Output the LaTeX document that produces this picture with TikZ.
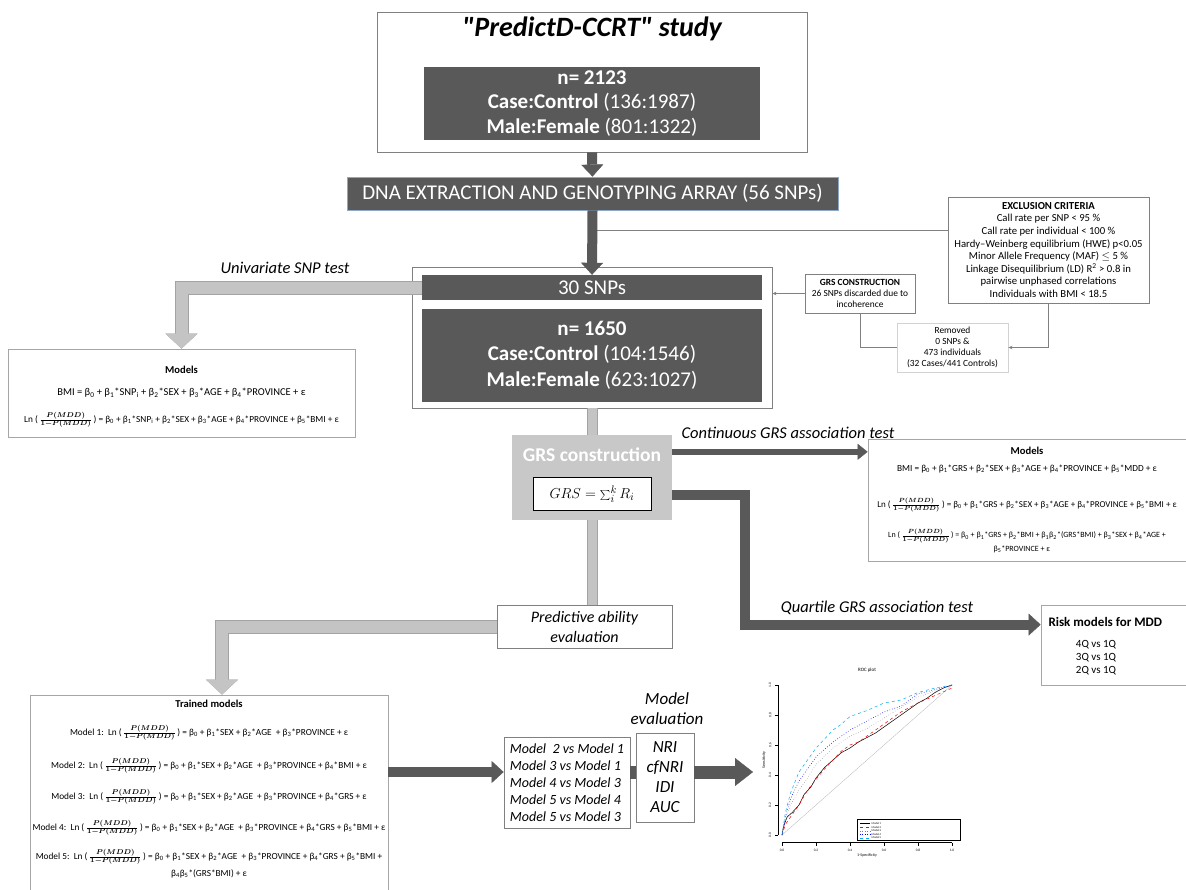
\documentclass[tikz,border=0pt]{standalone}
\usepackage{fontspec}
\setmainfont{Carlito}
\newfontfamily\plainfont{Carlito}
\usetikzlibrary{arrows.meta}

\definecolor{dkgray}{HTML}{595959}
\definecolor{ltgray}{HTML}{C4C4C4}
\definecolor{edgegray}{HTML}{A3A3A3}
\definecolor{grsgray}{HTML}{C8C8C8}
\definecolor{dnaedge}{HTML}{8EA9C8}

\def\fs#1#2{\fontsize{#1}{#2}\selectfont}
\newcommand{\bta}[1]{β\textsubscript{#1}}
\newcommand{\lnodds}{Ln (\,{\boldmath$\frac{P(MDD)}{1-P(MDD)}$}\,)}

\tikzset{
  linebox/.style={draw=gray, fill=white, line width=0.8pt, inner sep=0pt},
  darkbox/.style={fill=dkgray, text=white, inner sep=0pt, align=center},
  bigarrow/.style={draw=dkgray, line width=10pt, -{Triangle[length=12pt,width=22pt,line width=0.4pt]}},
  lightarrow/.style={draw=ltgray, line width=12pt, preaction={draw=edgegray, line width=14pt},
    -{Triangle[length=15pt,width=32pt,line width=0.4pt]}},
  shaft/.style={draw=ltgray, line width=9pt, preaction={draw=edgegray, line width=11pt}},
  thinline/.style={draw=gray, line width=0.7pt},
  thinarrow/.style={thinline, -{Stealth[length=4pt,width=3.5pt]}},
  formula/.style={font=\fs{9.3}{11}},
  heading/.style={font=\fs{10.6}{13}\bfseries},
  testlabel/.style={font=\fs{16.5}{20}\itshape},
}

\begin{document}
\begin{tikzpicture}[x=1pt, y=-1pt]
\path[use as bounding box] (0,0) rectangle (1186,889);

%%%%% STUDY %%%%%
\node[linebox, minimum width=430pt, minimum height=140pt] (study) at (592,82) {};
\node[font=\plainfont\fs{28}{32}\bfseries\itshape] (studytitle) at (592,29) {"PredictD-CCRT" study};
\node[darkbox, minimum width=336pt, minimum height=73pt, font=\fs{21}{24.5}] (cohort) at (592,103.5)
  {\textbf{n= 2123}\\\textbf{Case:Control} (136:1987)\\\textbf{Male:Female} (801:1322)};

\node[darkbox, draw=dnaedge, line width=0.8pt, minimum width=491pt, minimum height=33pt, font=\fs{21}{24}] (dna) at (592.5,193.5)
  {DNA EXTRACTION AND GENOTYPING ARRAY (56 SNPs)};
\draw[bigarrow] (study.south) -- (dna.north);

%%%%% QUALITY CONTROL %%%%%
\node[linebox, minimum width=201pt, minimum height=106pt, font=\fs{10.7}{12.6}, align=center] (excl) at (1048.5,250)
  {\textbf{EXCLUSION CRITERIA}\\Call rate per SNP < 95 \%\\Call rate per individual < 100 \%\\
   Hardy–Weinberg equilibrium (HWE) p<0.05\\Minor Allele Frequency (MAF) $\leq$ 5 \%\\
   Linkage Disequilibrium (LD) R\textsuperscript{2} > 0.8 in\\pairwise unphased correlations\\Individuals with BMI < 18.5};
\coordinate (exclout) at ([yshift=20pt]excl.west);
\draw[thinline] (exclout) -- (exclout -| dna.south);

\node[linebox, minimum width=360pt, minimum height=141pt] (qc) at (592,337.5) {};
\node[darkbox, minimum width=340pt, minimum height=25pt, font=\fs{21}{24}] (snps) at (592,287.5) {30 SNPs};
\node[darkbox, minimum width=340pt, minimum height=93pt, font=\fs{21}{25.5}] (sample) at (592,355)
  {\textbf{n= 1650}\\\textbf{Case:Control} (104:1546)\\\textbf{Male:Female} (623:1027)};
\draw[bigarrow] (dna.south) -- (snps.north);

\node[linebox, minimum width=110pt, minimum height=39pt, font=\fs{9.4}{11}, align=center] (grsnote) at (860,293.5)
  {\textbf{GRS CONSTRUCTION}\\26 SNPs discarded due to\\incoherence};
\draw[thinarrow] (grsnote.west) -- (grsnote.west -| qc.east);

\node[linebox, draw=gray!35, minimum width=111pt, minimum height=49pt, font=\fs{9.4}{11}, align=center] (removed) at (952.5,347.5)
  {Removed\\0 SNPs \&\\473 individuals\\(32 Cases/441 Controls)};
\draw[thinline] (grsnote.south) |- (removed.west);
\draw[thinarrow] (excl.south) |- (removed.east);

%%%%% UNIVARIATE %%%%%
\node[linebox, draw=gray!70, minimum width=347pt, minimum height=88pt] (models1) at (181.5,393) {};
\node[heading] (m1title) at (181.5,370) {Models};
\node[formula, font=\fs{10.5}{12}] (m1bmi) at (181.5,393) {BMI = \bta{0} + \bta{1}*SNP\textsubscript{i} + \bta{2}*SEX + \bta{3}*AGE + \bta{4}*PROVINCE + ε};
\node[formula] (m1ln) at (181.5,420) {\lnodds{} = \bta{0} + \bta{1}*SNP\textsubscript{i} + \bta{2}*SEX + \bta{3}*AGE + \bta{4}*PROVINCE + \bta{5}*BMI + ε};
\draw[lightarrow] (snps.west) -| (models1.north);
\node[testlabel] (unitest) at (285,268) {Univariate SNP test};

%%%%% GRS %%%%%
\node[fill=grsgray, minimum width=160pt, minimum height=85pt] (grs) at (592,477.5) {};
\node[font=\fs{19.5}{22}\bfseries, text=white] (grstitle) at (592,455) {GRS construction};
\node[linebox, draw=black, line width=1pt, minimum width=118pt, minimum height=33pt, font=\fs{15}{18}] (grsformula) at (592,494)
  {$GRS=\sum_{i}^{k}R_{i}$};
\draw[shaft] (qc.south) -- (grs.north);

\node[linebox, draw=gray!70, minimum width=318pt, minimum height=122pt] (models2) at (1027,500) {};
\node[heading] (m2title) at (1027,451) {Models};
\node[formula] (m2bmi) at (1027,469) {BMI = \bta{0} + \bta{1}*GRS + \bta{2}*SEX + \bta{3}*AGE + \bta{4}*PROVINCE + \bta{5}*MDD + ε};
\node[formula, font=\fs{9}{11}] (m2lna) at (1027,505) {\lnodds{} = \bta{0} + \bta{1}*GRS + \bta{2}*SEX + \bta{3}*AGE + \bta{4}*PROVINCE + \bta{5}*BMI + ε};
\node[formula, font=\fs{8}{10}] (m2lnb) at (1027,536) {\lnodds{} = \bta{0} + \bta{1}*GRS + \bta{2}*BMI + \bta{1}\bta{2}*(GRS*BMI) + \bta{3}*SEX + \bta{4}*AGE +};
\node[formula, font=\fs{8}{10}, anchor=west] (m2lnc) at (990,549) {\bta{5}*PROVINCE + ε};

\coordinate (contout) at ([yshift=-17pt]grs.north east);
\draw[bigarrow, line width=6pt, -{Triangle[length=10pt,width=16pt,line width=0.4pt]}] (contout) -- (contout -| models2.west);
\node[testlabel, anchor=west] (conttext) at (678,433) {Continuous GRS association test};

\node[linebox, draw=gray!70, minimum width=145pt, minimum height=80pt] (risk) at (1113.5,645) {};
\node[font=\fs{13}{15}\bfseries, anchor=west] (risktitle) at (1045,622) {Risk models for MDD};
\node[font=\fs{11}{13}, align=center] (risklist) at (1096,658) {4Q vs 1Q\\3Q vs 1Q\\2Q vs 1Q};
\coordinate (quartout) at ([yshift=-60pt]grs.north east);
\coordinate (riskin) at ([yshift=-20pt]risk.north west);
\coordinate (quartbend) at (745,0);
\draw[bigarrow] (quartout) -| (quartbend |- riskin) -- (riskin);
\node[testlabel] (quarttext) at (877,608) {Quartile GRS association test};

%%%%% PREDICTIVE ABILITY %%%%%
\node[linebox, minimum width=175pt, minimum height=43pt, font=\fs{16}{20}\itshape, align=center] (predict) at (584.5,626.5)
  {Predictive ability\\evaluation};
\draw[shaft] (grs.south) -- (grs.south |- predict.north);

\node[linebox, draw=gray!70, minimum width=358pt, minimum height=196pt] (trained) at (209,793) {};
\node[heading] (ttitle) at (209,704) {Trained models};
\node[formula] (model1) at (209,733) {Model 1:~~\lnodds{} = \bta{0} + \bta{1}*SEX + \bta{2}*AGE~~+ \bta{3}*PROVINCE + ε};
\node[formula] (model2) at (209,766) {Model 2:~~\lnodds{} = \bta{0} + \bta{1}*SEX + \bta{2}*AGE~~+ \bta{3}*PROVINCE + \bta{4}*BMI + ε};
\node[formula] (model3) at (209,797) {Model 3:~~\lnodds{} = \bta{0} + \bta{1}*SEX + \bta{2}*AGE~~+ \bta{3}*PROVINCE + \bta{4}*GRS + ε};
\node[formula] (model4) at (209,828) {Model 4:~~\lnodds{} = \bta{0} + \bta{1}*SEX + \bta{2}*AGE~~+ \bta{3}*PROVINCE + \bta{4}*GRS + \bta{5}*BMI + ε};
\node[formula] (model5) at (209,857) {Model 5:~~\lnodds{} = \bta{0} + \bta{1}*SEX + \bta{2}*AGE~~+ \bta{3}*PROVINCE + \bta{4}*GRS + \bta{5}*BMI +};
\node[formula] (model5b) at (209,874) {\bta{4}\bta{5}*(GRS*BMI) + ε};
\draw[lightarrow] (predict.west) -| ([xshift=13pt]trained.north);

\node[linebox, minimum width=126pt, minimum height=91pt, font=\fs{14}{17}\itshape, align=left] (cmp) at (567,782.5)
  {Model~~2 vs Model 1\\Model 3 vs Model 1\\Model 4 vs Model 3\\Model 5 vs Model 4\\Model 5 vs Model 3};
\node[linebox, minimum width=58pt, minimum height=89pt, font=\fs{17}{20}\itshape, align=center] (metrics) at (665,777.5)
  {NRI\\cfNRI\\IDI\\AUC};
\node[font=\fs{17}{20}\itshape, align=center] (evaltext) at (667,709) {Model\\evaluation};

\coordinate (cmpin) at ([yshift=10.5pt]cmp.west);
\coordinate (rocin) at (753,772);
\draw[bigarrow] (cmpin -| trained.east) -- (cmpin);
\draw[draw=dkgray, line width=13pt] (cmpin -| cmp.east) -- (cmpin -| metrics.west);
\draw[bigarrow, line width=13pt, -{Triangle[length=18pt,width=28pt,line width=0.4pt]}] (cmpin -| metrics.east) -- (rocin);

%%%%% ROC PLOT %%%%%
\node[font=\fs{5}{6}] (roctitle) at (867,670) {ROC plot};
\node[font=\fs{4}{5}, rotate=90] (ylab) at (764,760) {Sensitivity};
\node[font=\fs{4}{5}] (xlab) at (867,855) {1-Specificity};
\begin{scope}[shift={(782,835)}, xscale=170, yscale=-150]
  \draw[line width=0.3pt] (-0.025,0) -- (-0.025,1);
  \draw[line width=0.3pt] (0,-0.05) -- (1,-0.05);
  \foreach \t/\lab [count=\i] in {0/0.0,0.2/0.2,0.4/0.4,0.6/0.6,0.8/0.8,1/1.0} {
    \draw[line width=0.3pt] (-0.025,\t) -- (-0.04,\t);
    \draw[line width=0.3pt] (\t,-0.05) -- (\t,-0.07);
    \node[font=\fs{3.5}{4}, rotate=90] (ytick\i) at (-0.07,\t) {\lab};
    \node[font=\fs{3.5}{4}] (xtick\i) at (\t,-0.1) {\lab};
  }
  \draw[gray!60, line width=0.3pt] (0,0) -- (1,1);
  \draw[gray, dotted, line width=0.5pt] plot coordinates {(0,0) (0.02,0.1) (0.05,0.2) (0.1,0.3) (0.15,0.38) (0.2,0.47) (0.3,0.58) (0.4,0.66) (0.5,0.71) (0.6,0.78) (0.7,0.85) (0.8,0.92) (0.9,0.96) (1,1)};
  \draw[black, line width=0.5pt] plot coordinates {(0,0) (0.01,0.06) (0.03,0.12) (0.06,0.15) (0.1,0.2) (0.13,0.27) (0.17,0.32) (0.2,0.38) (0.25,0.45) (0.3,0.5) (0.35,0.55) (0.4,0.58) (0.45,0.62) (0.5,0.65) (0.55,0.68) (0.6,0.72) (0.65,0.76) (0.7,0.8) (0.75,0.84) (0.8,0.88) (0.85,0.91) (0.9,0.95) (0.95,0.98) (1,1)};
  \draw[red, dashed, line width=0.5pt] plot coordinates {(0,0) (0.02,0.07) (0.05,0.12) (0.1,0.2) (0.15,0.3) (0.2,0.37) (0.25,0.44) (0.3,0.5) (0.35,0.56) (0.4,0.6) (0.45,0.62) (0.5,0.66) (0.55,0.7) (0.6,0.74) (0.7,0.82) (0.8,0.88) (0.9,0.93) (1,0.98)};
  \draw[blue, dotted, line width=0.6pt] plot coordinates {(0,0) (0.02,0.12) (0.05,0.24) (0.1,0.36) (0.15,0.44) (0.2,0.52) (0.3,0.62) (0.4,0.7) (0.5,0.76) (0.6,0.82) (0.7,0.86) (0.8,0.94) (0.9,0.97) (1,1)};
  \draw[cyan, dashed, line width=0.5pt] plot coordinates {(0,0) (0.02,0.15) (0.05,0.28) (0.1,0.42) (0.15,0.5) (0.2,0.58) (0.25,0.64) (0.3,0.7) (0.35,0.74) (0.4,0.79) (0.5,0.83) (0.6,0.88) (0.7,0.9) (0.8,0.95) (0.9,0.98) (1,1)};
\end{scope}
\node[draw, line width=0.3pt, minimum width=103pt, minimum height=21pt, inner sep=0pt] (legend) at (908.5,829.5) {};
\foreach \col/\pat [count=\i] in {black/solid, red/dashed, gray/dotted, blue/dotted, cyan/dashed} {
  \draw[\col, \pat, line width=0.4pt] (860,820+3.6*\i) -- (870,820+3.6*\i);
  \node[font=\fs{2.8}{3}, anchor=west, inner sep=0.5pt] (leg\i) at (871,820+3.6*\i) {Model \i};
}
\end{tikzpicture}
\end{document}
